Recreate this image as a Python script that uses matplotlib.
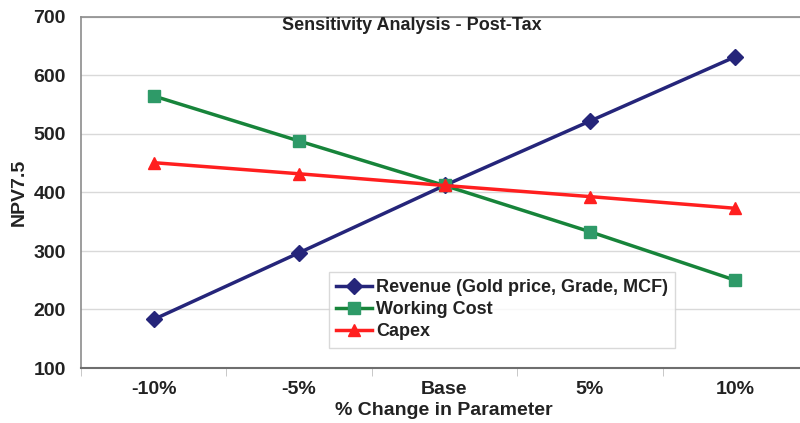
import matplotlib
matplotlib.use('Agg')
import matplotlib.pyplot as plt
import numpy as np

plt.rcParams['font.family'] = ['Liberation Sans', 'DejaVu Sans']
plt.rcParams['font.weight'] = 'bold'
plt.rcParams['axes.labelweight'] = 'bold'

# sensitivity of NPV7.5 to a +/- change in each parameter
changes = ['-10%', '-5%', 'Base', '5%', '10%']
revenue = [183, 297, 412, 522, 632]
working_cost = [565, 488, 412, 333, 250]
capex = [451, 432, 412, 393, 373]

TXT = '#222222'

fig = plt.figure(figsize=(8.0, 4.23), dpi=100)
ax = fig.add_axes([81 / 800, 55 / 423, 727 / 800, 351 / 423])

x = np.arange(len(changes))
ax.plot(x, revenue, '-D', color='#25257A', lw=2.5, ms=8, mfc='#25257A', mec='#25257A',
        label='Revenue (Gold price, Grade, MCF)', zorder=3)
ax.plot(x, working_cost, '-s', color='#17843A', lw=2.5, ms=9, mfc='#2E9A68', mec='#2E9A68',
        label='Working Cost', zorder=3)
ax.plot(x, capex, '-^', color='#FF1F1F', lw=2.5, ms=9, mfc='#FF1F1F', mec='#FF1F1F',
        label='Capex', zorder=4)

ax.set_xlim(-0.5, 4.5)
ax.set_ylim(100, 700)
ax.set_yticks(np.arange(100, 701, 100))
ax.yaxis.grid(True, color='#D9D9D9', lw=1)
ax.set_axisbelow(True)

# category labels centred, tick marks between categories
ax.set_xticks(x)
ax.set_xticklabels(changes)
ax.set_xticks(np.arange(-0.5, 4.6, 1), minor=True)
ax.tick_params(axis='x', which='major', length=0, pad=9, labelsize=14, labelcolor=TXT)
ax.tick_params(axis='x', which='minor', length=6, color='#BFBFBF', direction='out')
ax.tick_params(axis='y', length=0, pad=11, labelsize=14, labelcolor=TXT)

for side in ['top', 'left']:
    ax.spines[side].set_color('#8C8C8C')
    ax.spines[side].set_linewidth(1.2)
ax.spines['bottom'].set_color('#6E6E6E')
ax.spines['bottom'].set_linewidth(1.5)
ax.spines['right'].set_visible(False)

ax.set_ylabel('NPV7.5', fontsize=14, color=TXT, labelpad=4)
fig.text(444 / 800, 1 - 410 / 423, '% Change in Parameter', ha='center', va='center',
         fontsize=14, color=TXT)

fig.text(412 / 800, 1 - 25 / 423, 'Sensitivity Analysis - Post-Tax', ha='center', va='center',
         fontsize=13, color=TXT)

leg = ax.legend(loc='upper left', bbox_to_anchor=(329 / 800, 1 - 272 / 423),
                bbox_transform=fig.transFigure, fontsize=13, frameon=True, fancybox=False,
                edgecolor='#D0D0D0', handlelength=2.0, handletextpad=0.2, borderpad=0.4,
                labelspacing=0.28, borderaxespad=0)
for t in leg.get_texts():
    t.set_color(TXT)
leg.get_frame().set_linewidth(1)

fig.savefig('out.png', dpi=100)
